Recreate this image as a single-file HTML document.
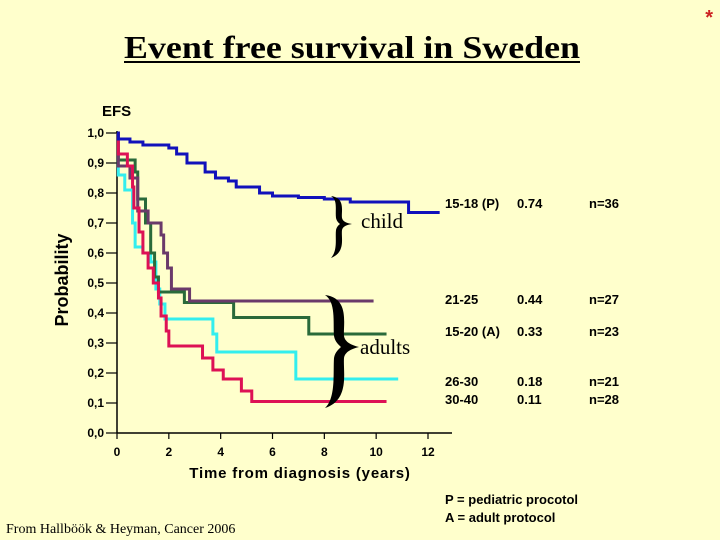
<!DOCTYPE html>
<html><head><meta charset="utf-8"><style>
html,body{margin:0;padding:0;background:#ffffcc;}
svg{display:block}
text{font-family:"Liberation Sans",sans-serif;}
</style></head><body>
<svg id="c" width="720" height="540" viewBox="0 0 720 540" xmlns="http://www.w3.org/2000/svg">
<rect width="720" height="540" fill="#ffffcc"/>
<text x="713" y="24" fill="#cc2222" font-size="20" font-weight="bold" text-anchor="end">*</text>
<text x="352" y="58" font-family="Liberation Serif,serif" font-size="32" font-weight="bold" text-anchor="middle" textLength="456" lengthAdjust="spacingAndGlyphs" style="font-family:'Liberation Serif',serif">Event free survival in Sweden</text>
<line x1="124" y1="62" x2="580" y2="62" stroke="#000" stroke-width="2"/>
<text x="102" y="116" font-size="15" font-weight="bold">EFS</text>
<text transform="translate(68,280) rotate(-90)" font-size="18" font-weight="bold" text-anchor="middle">Probability</text>
<text x="300" y="478" font-size="15" font-weight="bold" text-anchor="middle" letter-spacing="0.8">Time from diagnosis (years)</text>
<text x="6" y="533" font-size="14" style="font-family:'Liberation Serif',serif">From Hallböök &amp; Heyman, Cancer 2006</text>
<text x="445" y="504" font-size="13" font-weight="bold">P = pediatric procotol</text>
<text x="445" y="522" font-size="13" font-weight="bold">A = adult protocol</text>
<g id="axes"></g>
<g id="series"></g>
<path d="M331,196 C346,198 341,212 342,218 C343,222 347,223 352,224 C347,225 343,226 342,230 C341,238 346,252 331,258 C338,250 335,238 336,230 C337,226 339,225 340,224 C339,223 337,222 336,218 C335,210 338,200 331,196 Z" fill="#000"/>
<text x="361" y="228" font-size="21" style="font-family:'Liberation Serif',serif">child</text>
<path d="M325,295 C350,298 343,325 344,336 C345,342 351,345 359,347 C351,349 345,352 344,358 C343,372 350,400 325,408 C336,398 333,372 334,358 C335,352 339,349 341,347 C339,345 335,342 334,336 C333,322 336,302 325,295 Z" fill="#000"/>
<text x="360" y="354" font-size="21" style="font-family:'Liberation Serif',serif">adults</text>
<g id="table" font-size="13" font-weight="bold"></g>
</svg>
<script>
const xTicks=[0,2,4,6,8,10,12];
const yTicks=[0,0.1,0.2,0.3,0.4,0.5,0.6,0.7,0.8,0.9,1.0];
const yTickLabels=["0,0","0,1","0,2","0,3","0,4","0,5","0,6","0,7","0,8","0,9","1,0"];
const blueT=[0,0.05,0.5,1,2,2.3,2.7,3.4,3.8,4.3,4.6,5.5,6,7,8,9,11.25,12.45];
const blueS=[1.0,0.98,0.97,0.96,0.95,0.93,0.90,0.87,0.85,0.84,0.82,0.80,0.79,0.785,0.78,0.77,0.735,0.735];
const purpleT=[0,0.05,0.5,0.8,1.2,1.7,1.8,1.95,2.1,2.8,9.9];
const purpleS=[1.0,0.89,0.85,0.74,0.70,0.66,0.60,0.55,0.48,0.44,0.44];
const greenT=[0,0.05,0.7,0.8,1.1,1.3,1.45,1.6,2.6,4.5,7.4,10.4];
const greenS=[1.0,0.91,0.87,0.78,0.70,0.60,0.52,0.47,0.435,0.385,0.33,0.33];
const cyanT=[0,0.05,0.3,0.6,0.7,1.0,1.3,1.5,1.65,1.85,3.7,3.85,6.9,10.85];
const cyanS=[1.0,0.86,0.81,0.70,0.62,0.60,0.57,0.48,0.43,0.38,0.33,0.27,0.18,0.18];
const redT=[0,0.05,0.4,0.6,0.65,0.85,1.0,1.2,1.4,1.6,1.7,1.9,2.0,3.3,3.7,4.1,4.8,5.2,10.4];
const redS=[1.0,0.93,0.89,0.82,0.75,0.67,0.60,0.55,0.50,0.45,0.39,0.34,0.29,0.25,0.21,0.18,0.14,0.105,0.105];
const groups=["15-18 (P)","21-25","15-20 (A)","26-30","30-40"];
const groupEFS=["0.74","0.44","0.33","0.18","0.11"];
const groupN=["n=36","n=27","n=23","n=21","n=28"];

const NS="http://www.w3.org/2000/svg";
const X=t=>117+t*(311/12);
const Y=s=>433-s*300;
function mk(tag,attrs,parent,txt){const e=document.createElementNS(NS,tag);for(const k in attrs)e.setAttribute(k,attrs[k]);if(txt!==undefined)e.textContent=txt;parent.appendChild(e);return e;}
const ax=document.getElementById('axes');
let l=mk('line',{x1:X(0),y1:Y(1)-2,x2:X(0),y2:Y(0),stroke:'#000','stroke-width':1.5},ax);


l=mk('line',{x1:X(0),y1:Y(0),x2:452,y2:Y(0),stroke:'#000','stroke-width':1.5},ax);


yTicks.forEach((v,i)=>{
  const t=mk('line',{x1:106,y1:Y(v),x2:X(0),y2:Y(v),stroke:'#000','stroke-width':1.2},ax);
  
  
  const tx=mk('text',{x:104,y:Y(v)+4,'font-size':12,'font-weight':'bold','text-anchor':'end'},ax,yTickLabels[i]);
  
  
});
xTicks.forEach(v=>{
  const t=mk('line',{x1:X(v),y1:Y(0),x2:X(v),y2:Y(0)+6,stroke:'#000','stroke-width':1.2},ax);
  
  
  const tx=mk('text',{x:X(v),y:Y(0)+23,'font-size':12,'font-weight':'bold','text-anchor':'middle'},ax,String(v));
  
  
});
const sg=document.getElementById('series');
function step(T,S,color,name){
  let d='M'+X(T[0])+','+Y(S[0]);
  for(let i=1;i<T.length;i++){d+=' L'+X(T[i])+','+Y(S[i-1])+' L'+X(T[i])+','+Y(S[i]);}
  const p=mk('path',{d:d,fill:'none',stroke:color,'stroke-width':3},sg);
  
  
}
step(cyanT,cyanS,'#33eeee','curve-26-30');
step(greenT,greenS,'#2a6a3a','curve-15-20-adult');
step(purpleT,purpleS,'#6a3a6a','curve-21-25');
step(redT,redS,'#dd1155','curve-30-40');
step(blueT,blueS,'#1111bb','curve-15-18-pediatric');
const tb=document.getElementById('table');
const rowY=[208,304,336,386,404];
groups.forEach((g,i)=>{
  let e=mk('text',{x:445,y:rowY[i]},tb,g);
  
  
  e=mk('text',{x:517,y:rowY[i]},tb,groupEFS[i]);
  
  
  e=mk('text',{x:589,y:rowY[i]},tb,groupN[i]);
  
  
});
</script>
</body></html>
